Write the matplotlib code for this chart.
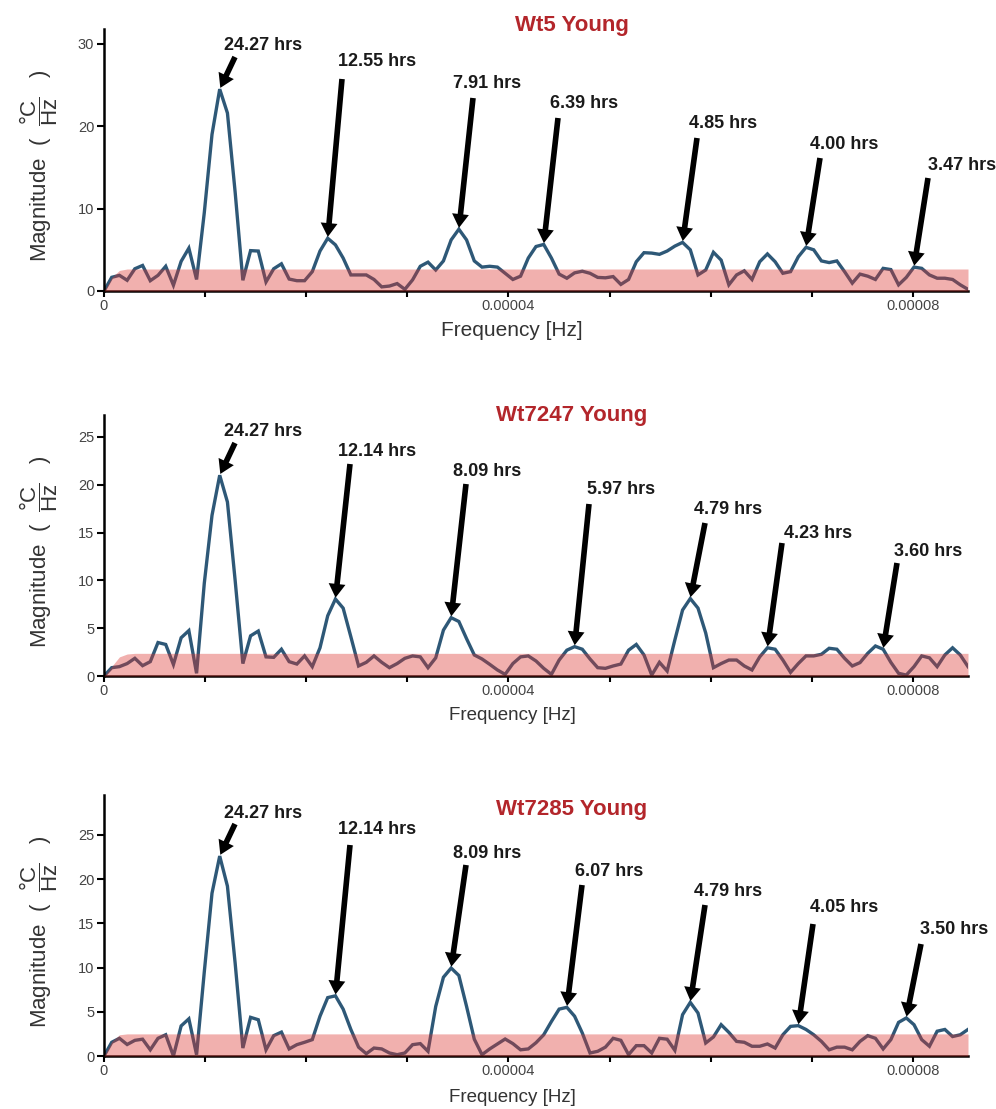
import numpy as np
import matplotlib
matplotlib.use("Agg")
import matplotlib.pyplot as plt

plt.rcParams['font.family'] = ['Liberation Sans', 'DejaVu Sans']
plt.rcParams['mathtext.fontset'] = 'custom'
plt.rcParams['mathtext.rm'] = 'Liberation Sans'
plt.rcParams['mathtext.it'] = 'Liberation Sans:italic'
plt.rcParams['mathtext.bf'] = 'Liberation Sans:bold'

# ---------------- data ----------------
record_hours = 364.05          # length of record -> frequency resolution
n_bins = 113
freq = np.arange(n_bins) / (record_hours * 3600.0)

titles = ["Wt5 Young", "Wt7247 Young", "Wt7285 Young"]

mag_wt5 = [0, 1.66, 1.9, 1.3, 2.7, 3.1, 1.25, 1.9, 3.0, 0.7, 3.6, 5.2, 1.4,
           9.5, 19.0, 24.5, 21.6, 12.0,
           1.3, 4.9, 4.85, 1.1, 2.7, 3.3, 1.45, 1.25, 1.25, 2.35, 4.85,
           6.4, 5.6, 4.0, 1.95, 1.95, 1.95, 1.4, 0.5, 0.6, 0.9, 0.2, 1.35,
           3.0, 3.5, 2.55, 3.65, 6.2, 7.5, 6.2, 3.65, 2.9, 3.0, 2.9, 2.15, 1.4, 1.8, 4.0, 5.4,
           5.65, 4.0, 2.05, 1.55, 2.2, 2.4, 2.15, 1.65, 1.6, 1.75, 0.8, 1.4, 3.55, 4.65,
           4.6, 4.45, 4.85, 5.45, 5.9, 5.0, 1.95, 2.55, 4.7, 3.75, 0.75, 1.95, 2.45, 1.4,
           3.55, 4.5, 3.55, 2.15, 2.35, 4.15, 5.3, 5.0, 3.65, 3.45, 3.65, 2.35, 0.95, 2.05,
           1.8, 1.4, 2.75, 2.6, 0.75, 1.65, 2.9, 2.75, 1.95, 1.55, 1.55, 1.4, 0.75, 0.2]

mag_wt7247 = [0, 0.87, 0.98, 1.3, 1.85, 1.08, 1.5, 3.5, 3.3, 1.2, 4.0, 4.75, 0.28,
              9.7, 16.8, 21.0, 18.2, 10.0,
              1.3, 4.2, 4.7, 2.0, 1.95, 2.8, 1.5, 1.25, 2.1, 0.98, 2.95,
              6.3, 8.05, 7.1, 4.1, 1.05, 1.43, 2.1, 1.43, 0.87, 1.3, 1.85, 2.1,
              2.0, 0.87, 1.9, 4.8, 6.1, 5.7, 3.9, 2.2, 1.78, 1.22, 0.63, 0.17, 1.3, 2.0, 2.1, 1.57,
              0.8, 0.17, 1.67, 2.7, 3.07, 2.8, 1.78, 0.87, 0.8, 1.05, 1.25, 2.7, 3.3, 2.2,
              0.1, 1.43, 0.52, 3.77, 6.9, 8.1, 7.1, 4.5, 0.87, 1.3, 1.67, 1.67, 1.05, 0.63,
              2.0, 2.95, 2.8, 1.67, 0.38, 1.3, 2.1, 2.1, 2.27, 2.9, 2.8, 1.85, 1.05, 1.4,
              2.37, 3.14, 2.8, 1.43, 0.28, 0.1, 0.98, 2.1, 1.9, 0.98, 2.2, 2.95, 2.2, 0.98]

mag_wt7285 = [0, 1.55, 2.0, 1.3, 1.77, 1.9, 0.7, 2.0, 2.4, 0.0, 3.4, 4.2, 0.15,
              9.5, 18.4, 22.6, 19.2, 10.5,
              0.9, 4.37, 4.1, 0.7, 2.3, 2.7, 0.8, 1.28, 1.55, 1.85, 4.5,
              6.6, 6.8, 5.3, 3.0, 1.0, 0.26, 0.9, 0.8, 0.34, 0.15, 0.34, 1.28,
              1.4, 0.53, 5.6, 8.9, 9.94, 9.1, 5.6, 1.9, 0.15, 0.8, 1.36, 1.92, 1.4, 0.7, 0.8, 1.5,
              2.4, 3.9, 5.3, 5.5, 4.5, 2.6, 0.34, 0.53, 1.0, 2.0, 1.77, 0.15, 1.17, 1.17,
              0.34, 2.0, 1.9, 0.64, 4.67, 6.06, 4.86, 1.47, 2.15, 3.54, 2.67, 1.65, 1.55, 1.1,
              1.1, 1.36, 0.9, 2.4, 3.35, 3.43, 3.0, 2.4, 1.65, 0.7, 1.0, 1.0, 0.7, 1.65,
              2.3, 2.0, 0.8, 1.85, 3.8, 4.3, 3.54, 1.85, 1.1, 2.8, 3.0, 2.2, 2.4, 3.0]

# noise threshold: start ramp + flat level
thr_ramp = [[0, 1.66, 2.5], [0, 1.0, 2.0, 2.3], [0, 1.65, 2.4]]
thr_level = [2.67, 2.37, 2.5]

peak_labels = [
    ["24.27 hrs", "12.55 hrs", "7.91 hrs", "6.39 hrs", "4.85 hrs", "4.00 hrs", "3.47 hrs"],
    ["24.27 hrs", "12.14 hrs", "8.09 hrs", "5.97 hrs", "4.79 hrs", "4.23 hrs", "3.60 hrs"],
    ["24.27 hrs", "12.14 hrs", "8.09 hrs", "6.07 hrs", "4.79 hrs", "4.05 hrs", "3.50 hrs"],
]
peak_bins = [
    [15, 29, 46, 57, 75, 91, 105],
    [15, 30, 45, 61, 76, 86, 101],
    [15, 30, 45, 60, 76, 90, 104],
]

y_ticks = [[0, 10, 20, 30], [0, 5, 10, 15, 20, 25], [0, 5, 10, 15, 20, 25]]
x_ticks = [0, 1e-5, 2e-5, 3e-5, 4e-5, 5e-5, 6e-5, 7e-5, 8e-5]
x_ticklabels = ["0", "", "", "", "0.00004", "", "", "", "0.00008"]

mags = [mag_wt5, mag_wt7247, mag_wt7285]

# ---------------- layout (pixels, top-left origin) ----------------
W, H = 996, 1109
fig = plt.figure(figsize=(W / 100, H / 100), dpi=100)

def fx(px):
    return px / W

def fy(py):
    return 1 - py / H

# axes: (left, top, right, bottom) in px
axes_px = [(104, 29, 968, 291), (104, 415, 968, 676), (104, 795, 968, 1056)]
ylims = [31.8, 27.3, 29.5]
title_y = [26, 415, 809]
xlabel_y = [331, 715, 1098]
xlabel_size = [15, 13.5, 13.5]
# annotation layout: (text_left, text_center_y, arrow_tail_x, arrow_tail_y)
ann_px = [
    [(224, 45, 235, 57), (338, 62, 342, 79), (453, 83, 473, 98), (550, 104, 558, 118),
     (689, 123, 697, 138), (810, 144, 820, 158), (928, 166, 928, 178)],
    [(224, 431, 235, 443), (338, 452, 350, 464), (453, 472, 466, 484), (587, 490, 589, 504),
     (694, 510, 705, 523), (784, 534, 782, 543), (894, 552, 897, 563)],
    [(224, 813, 235, 824), (338, 830, 350, 845), (453, 854, 466, 865), (575, 871, 582, 885),
     (694, 892, 705, 905), (810, 908, 813, 924), (920, 930, 921, 944)],
]

line_color = "#2E5877"
band_color = "#DD342F"
title_color = "#B3262B"
tick_color = "#444444"

for i in range(3):
    l, t, r, b = axes_px[i]
    ax = fig.add_axes([fx(l), fy(b), (r - l) / W, (b - t) / H])
    mag = np.array(mags[i])
    thr = np.concatenate([thr_ramp[i], np.full(n_bins - len(thr_ramp[i]), thr_level[i])])

    ax.plot(freq, mag, color=line_color, lw=2.4, solid_joinstyle='miter', zorder=2)
    ax.fill_between(freq, 0, thr, color=band_color, alpha=0.39, lw=0, zorder=3)

    ax.set_xlim(0, freq[-1])
    ax.set_ylim(0, ylims[i])
    for s in ['top', 'right']:
        ax.spines[s].set_visible(False)
    for s in ['left', 'bottom']:
        ax.spines[s].set_linewidth(1.8)
    ax.set_xticks(x_ticks, labels=x_ticklabels)
    ax.set_yticks(y_ticks[i])
    ax.tick_params(axis='both', direction='out', length=5, width=1.5, color='black',
                   labelsize=10.5, labelcolor=tick_color, pad=2)
    ax.tick_params(axis='x', length=4)

    fig.text(fx(572), fy(title_y[i]), titles[i], ha='center', va='center',
             fontsize=16, fontweight='bold', color=title_color)
    fig.text(fx(512), fy(xlabel_y[i]), "Frequency [Hz]", ha='center', va='center',
             fontsize=xlabel_size[i], color='#333333')
    fig.text(fx(39), fy((t + b) / 2 + 6),
             r"Magnitude  (  $\dfrac{\mathrm{°C}}{\mathrm{Hz}}$   )",
             rotation=90, ha='center', va='center', fontsize=16, color='#333333')

    for lab, k, (tx, ty, ax_, ay) in zip(peak_labels[i], peak_bins[i], ann_px[i]):
        fig.text(fx(tx), fy(ty), lab, ha='left', va='center', fontsize=13,
                 fontweight='bold', color='#1a1a1a')
        ax.annotate('', xy=(freq[k], mag[k]), xycoords='data',
                    xytext=(fx(ax_), fy(ay)), textcoords='figure fraction',
                    arrowprops=dict(arrowstyle='simple,head_length=1.1,head_width=1.35,tail_width=0.45',
                                    mutation_scale=9, fc='black', ec='black', lw=0,
                                    shrinkA=0, shrinkB=1),
                    annotation_clip=False, zorder=5)

fig.savefig("out.png", dpi=100)
